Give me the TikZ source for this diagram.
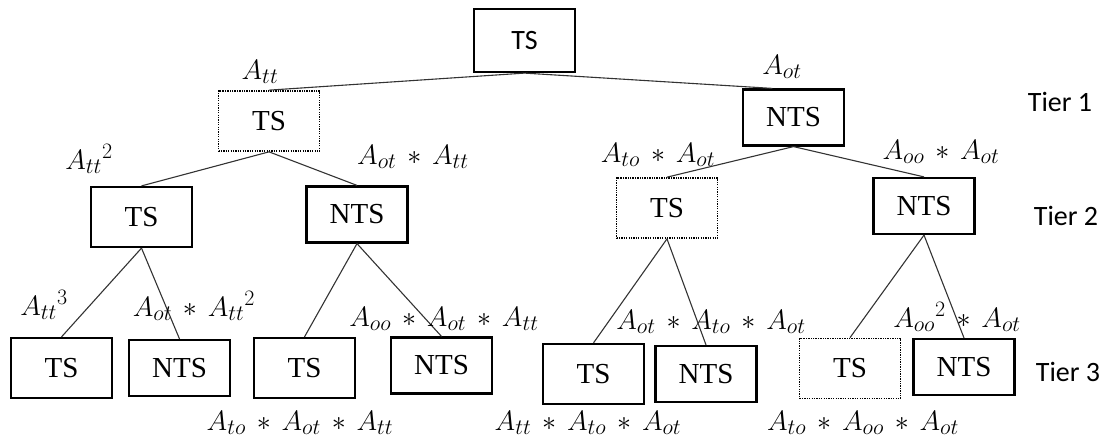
\RequirePackage{fix-cm}
\documentclass[tikz,border=0pt]{standalone}
\usepackage{fontspec}
\setmainfont{Liberation Serif}
\newfontfamily\tiersf{Carlito}
\DeclareMathSizes{28}{28}{22}{17}
\newcommand{\pmul}{\,*\,}

\begin{document}
\begin{tikzpicture}[x=1pt, y=-1pt,
    box/.style={draw, line width=2.2pt, minimum width=101pt, inner sep=0pt,
        font=\fontsize{29}{34}\selectfont},
    ts/.style={box, minimum height=60pt},
    nts/.style={box, minimum height=56pt},
    dotted box/.style={line width=1.7pt, dash pattern=on 1.3pt off 1.1pt},
    lab/.style={inner sep=0pt, font=\fontsize{28}{32}\selectfont},
    tier/.style={inner sep=0pt, font=\tiersf\fontsize{28}{32}\selectfont},
    link/.style={line width=1.1pt, black!80}]
    \useasboundingbox (0,0) rectangle (1112,439);

    % koren
    \node[box, minimum height=63pt, font=\tiersf\fontsize{28}{32}\selectfont] (root) at (524.5,40.5) {TS};

    % uroven 1
    \node[ts, dotted box] (ts1) at (269,121) {TS};
    \node[nts] (nts1) at (793.5,117.5) {NTS};

    % uroven 2
    \node[ts] (tsA) at (141.5,217) {TS};
    \node[nts] (ntsA) at (357,214.5) {NTS};
    \node[ts, dotted box] (tsB) at (667,208) {TS};
    \node[nts] (ntsB) at (924,206) {NTS};

    % uroven 3
    \node[ts] (tsAA) at (61.5,368) {TS};
    \node[nts] (ntsAA) at (179.5,368) {NTS};
    \node[ts] (tsAB) at (304.5,368) {TS};
    \node[nts] (ntsAB) at (441.5,365.5) {NTS};
    \node[ts] (tsBA) at (593.5,374) {TS};
    \node[nts] (ntsBA) at (706,374) {NTS};
    \node[ts, dotted box] (tsBB) at (850,368.5) {TS};
    \node[nts] (ntsBB) at (964,367) {NTS};

    % hrany
    \draw[link] (root.south) -- (ts1.north);
    \draw[link] (root.south) -- (nts1.126);
    \draw[link] (ts1.south) -- (tsA.north);
    \draw[link] (ts1.south) -- (ntsA.north);
    \draw[link] (nts1.south) -- (tsB.north);
    \draw[link] (nts1.south) -- (ntsB.north);
    \draw[link] (tsA.south) -- (tsAA.north);
    \draw[link] (tsA.south) -- (ntsAA.north);
    \draw[link] (ntsA.south) -- (tsAB.north);
    \draw[link] (ntsA.south) -- (ntsAB.north);
    \draw[link] (tsB.south) -- (tsBA.north);
    \draw[link] (tsB.south) -- (ntsBA.north);
    \draw[link] (ntsB.south) -- (tsBB.north);
    \draw[link] (ntsB.south) -- (ntsBB.north);

    % pravdepodobnosti
    \node[lab] (p1) at (260,72) {$A_{tt}$};
    \node[lab] (p2) at (782,67) {$A_{ot}$};
    \node[lab] (p3) at (89,159) {$A_{tt}{}^{2}$};
    \node[lab] (p4) at (413,157) {$A_{ot}\pmul A_{tt}$};
    \node[lab] (p5) at (658,155) {$A_{to}\pmul A_{ot}$};
    \node[lab] (p6) at (941,152) {$A_{oo}\pmul A_{ot}$};
    \node[lab] (p7) at (44,305) {$A_{tt}{}^{3}$};
    \node[lab] (p8) at (194,306) {$A_{ot}\pmul A_{tt}{}^{2}$};
    \node[lab] (p9) at (444,319) {$A_{oo}\pmul A_{ot}\pmul A_{tt}$};
    \node[lab] (p10) at (300,423) {$A_{to}\pmul A_{ot}\pmul A_{tt}$};
    \node[lab] (p11) at (711,322) {$A_{ot}\pmul A_{to}\pmul A_{ot}$};
    \node[lab] (p12) at (957,317) {$A_{oo}{}^{2}\pmul A_{ot}$};
    \node[lab] (p13) at (588,423) {$A_{tt}\pmul A_{to}\pmul A_{ot}$};
    \node[lab] (p14) at (863,423) {$A_{to}\pmul A_{oo}\pmul A_{ot}$};

    % urovne
    \node[tier] (tier1) at (1060,102) {Tier 1};
    \node[tier] (tier2) at (1066,216) {Tier 2};
    \node[tier] (tier3) at (1068,372) {Tier 3};
\end{tikzpicture}
\end{document}
